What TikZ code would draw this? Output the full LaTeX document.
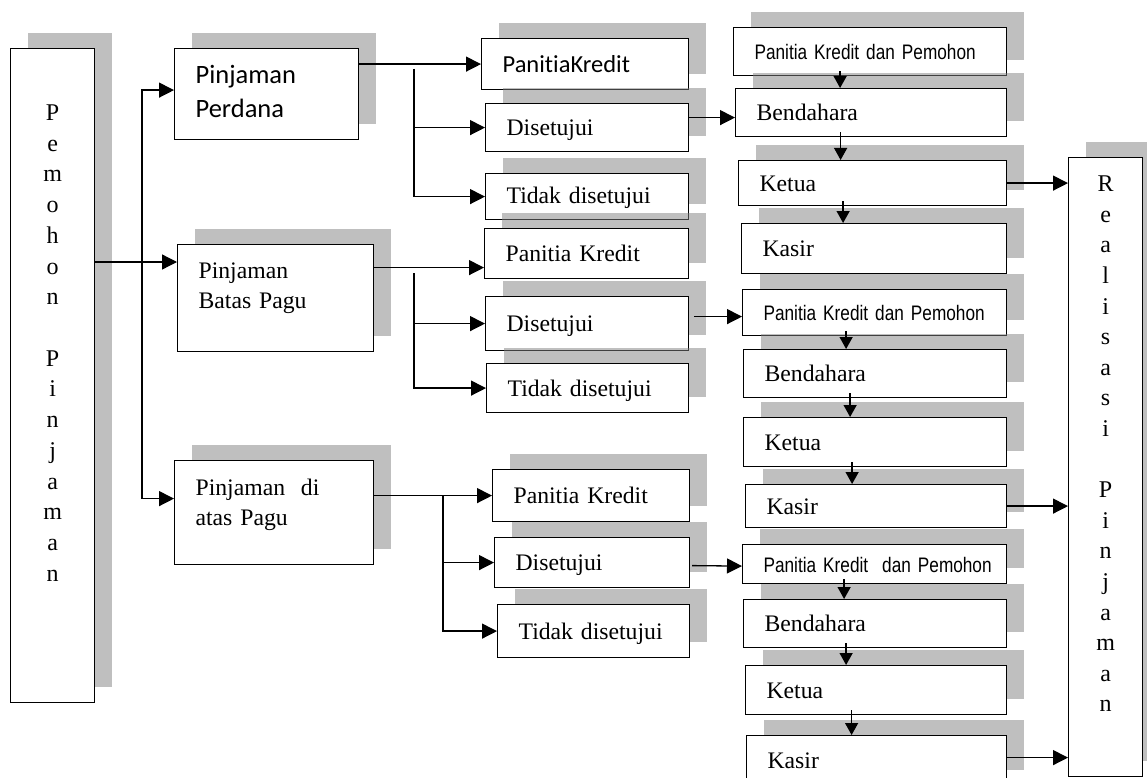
\documentclass[tikz,border=0pt]{standalone}
\usepackage{fontspec}
\setmainfont{Liberation Serif}
\newfontfamily\calibfont[Ligatures=NoCommon]{Carlito}
\newfontfamily\narrowfont[FakeStretch=0.82]{Liberation Sans}
\usetikzlibrary{arrows.meta,shadows}

\tikzset{
  box/.style={draw, line width=1.2pt, fill=white, inner xsep=21pt, inner ysep=0pt,
    anchor=north west, align=left, text height=16pt, text depth=0pt,
    drop shadow={shadow xshift=17pt, shadow yshift=16pt},
    font=\fontsize{23.7}{30}\selectfont},
  sans/.style={font=\calibfont\fontsize{24.5}{34}\selectfont},
  narrow/.style={font=\narrowfont\fontsize{21}{25}\selectfont},
  column/.style={box, align=center, inner xsep=0pt, font=\fontsize{24}{30.7}\selectfont},
  line/.style={line width=1.3pt},
  arr/.style={line, -{Triangle[length=15pt,width=15pt]}},
  arrdown/.style={line, -{Triangle[length=12pt,width=13pt]}, shorten <=-5pt}
}

\begin{document}
\begin{tikzpicture}[x=1pt,y=-1pt]
    \useasboundingbox (0,0) rectangle (1147,778);
    \fill[white] (0,0) rectangle (1147,778);
    \clip (0,0) rectangle (1147,778);

    % Pemohon Pinjaman
    \node[column, text width=84pt, text height=72pt, text depth=582pt] (pemohon) at (10,48)
        {P\\e\\m\\o\\h\\o\\n\\\mbox{}\\P\\i\\n\\j\\a\\m\\a\\n};

    % the three kinds of loans
    \node[box, font=\calibfont\fontsize{26.5}{34}\selectfont, text width=142pt,
        text height=35pt, text depth=56pt] (perdana) at (174,48) {Pinjaman\\Perdana};
    \node[box, text width=154pt, text height=34pt, text depth=73pt] (batas) at (177,244)
        {Pinjaman\\Batas Pagu};
    \node[box, text width=157pt, text height=35pt, text depth=69pt] (atas) at (174,460)
        {Pinjaman~~di\\atas Pagu};

    % Pinjaman Perdana
    \node[box, sans, text width=165pt, minimum height=51pt] (pk1) at (481,38) {PanitiaKredit};
    \node[box, text width=161pt, minimum height=48pt] (setuju1) at (485,103) {Disetujui};
    \node[box, text width=161pt, minimum height=46pt, text height=13pt] (tidak1) at (485,173) {Tidak disetujui};

    % Pinjaman Batas Pagu
    \node[box, text width=162pt, minimum height=50pt] (pk2) at (484,228) {Panitia Kredit};
    \node[box, text width=161pt, minimum height=54pt] (setuju2) at (485,296) {Disetujui};
    \node[box, text width=160pt, minimum height=49pt] (tidak2) at (486,363) {Tidak disetujui};

    % Pinjaman di atas Pagu
    \node[box, text width=155pt, minimum height=52pt] (pk3) at (492,469) {Panitia Kredit};
    \node[box, text width=153pt, minimum height=50pt] (setuju3) at (494,537) {Disetujui};
    \node[box, text width=150pt, minimum height=53pt] (tidak3) at (497,604) {Tidak disetujui};

    % approval chain, first
    \node[box, narrow, text width=231pt, minimum height=48pt] (pkdp1) at (733,27) {\mbox{Panitia Kredit dan Pemohon}};
    \node[box, text width=229pt, minimum height=48pt] (bend1) at (735,88) {Bendahara};
    \node[box, text width=226pt, minimum height=45pt] (ketua1) at (738,160) {Ketua};
    \node[box, text width=223pt, minimum height=50pt] (kasir1) at (741,223) {Kasir};

    % approval chain, second
    \node[box, narrow, text width=222pt, minimum height=46pt] (pkdp2) at (742,289) {\mbox{Panitia Kredit dan Pemohon}};
    \node[box, text width=221pt, minimum height=48pt] (bend2) at (743,349) {Bendahara};
    \node[box, text width=221pt, minimum height=49pt] (ketua2) at (743,417) {Ketua};
    \node[box, text width=219pt, minimum height=43pt] (kasir2) at (745,484) {Kasir};

    % approval chain, third
    \node[box, narrow, text width=222pt, minimum height=39pt] (pkdp3) at (742,544) {\mbox{Panitia Kredit~ dan Pemohon}};
    \node[box, text width=221pt, minimum height=48pt] (bend3) at (743,599) {Bendahara};
    \node[box, text width=219pt, minimum height=49pt] (ketua3) at (745,665) {Ketua};
    \node[box, text width=218pt, minimum height=50pt] (kasir3) at (746,735) {Kasir};

    % Realisasi Pinjaman
    \node[column, text width=74pt, text height=34pt, text depth=585pt,
        font=\fontsize{24}{30.6}\selectfont] (real) at (1068,157)
        {R\\e\\a\\l\\i\\s\\a\\s\\i\\\mbox{}\\P\\i\\n\\j\\a\\m\\a\\n};

    % connectors from Pemohon
    \coordinate (f0) at (142,262);
    \draw[arr] (pemohon.east |- f0) -- (batas.west |- f0);
    \draw[arr] (f0) |- ([yshift=4pt]perdana.west);
    \draw[arr] (f0) |- ([yshift=14pt]atas.west);

    % connectors of Pinjaman Perdana
    \draw[arr] (perdana.east |- pk1.west) -- (pk1.west);
    \coordinate (f1) at (414,69);
    \draw[arr] (f1) |- (setuju1.west);
    \draw[arr] (f1) |- (tidak1.west);
    \draw[arr] ([yshift=10pt]setuju1.east) -- ([yshift=-5pt]bend1.west);

    % connectors of Pinjaman Batas Pagu
    \coordinate (e2) at ([yshift=-14pt]pk2.west);
    \draw[arr] (batas.east |- e2) -- (e2);
    \coordinate (f2) at (414,273);
    \draw[arr] (f2) |- (setuju2.west);
    \draw[arr] (f2) |- (tidak2.west);
    \draw[arr] ([xshift=5pt,yshift=7pt]setuju2.east) -- ([yshift=-4pt]pkdp2.west);

    % connectors of Pinjaman di atas Pagu
    \draw[arr] (atas.east |- pk3.west) -- (pk3.west);
    \coordinate (f3) at (443,495);
    \draw[arr] (f3) |- (setuju3.west);
    \draw[arr] (f3) |- (tidak3.west);
    \draw[arr] ([xshift=2pt,yshift=-3pt]setuju3.east) -- ([yshift=-2pt]pkdp3.west);

    % down arrows in the chains
    \foreach \a/\b/\dx in {pkdp1/bend1/-31, bend1/ketua1/-32, ketua1/kasir1/-31,
                           pkdp2/bend2/-29, bend2/ketua2/-25, ketua2/kasir2/-24,
                           pkdp3/bend3/-31, bend3/ketua3/-30, ketua3/kasir3/-25}{
        \path ([xshift=\dx pt]\b.north) coordinate (tip);
        \draw[arrdown] (\a.south -| tip) -- (tip);
    }

    % to Realisasi
    \draw[arr] (ketua1.east) -- (ketua1.east -| real.west);
    \draw[arr] (kasir2.east) -- (kasir2.east -| real.west);
    \coordinate (k3) at ([yshift=3pt]kasir3.east);
    \draw[arr] (k3) -- (k3 -| real.west);
\end{tikzpicture}
\end{document}
